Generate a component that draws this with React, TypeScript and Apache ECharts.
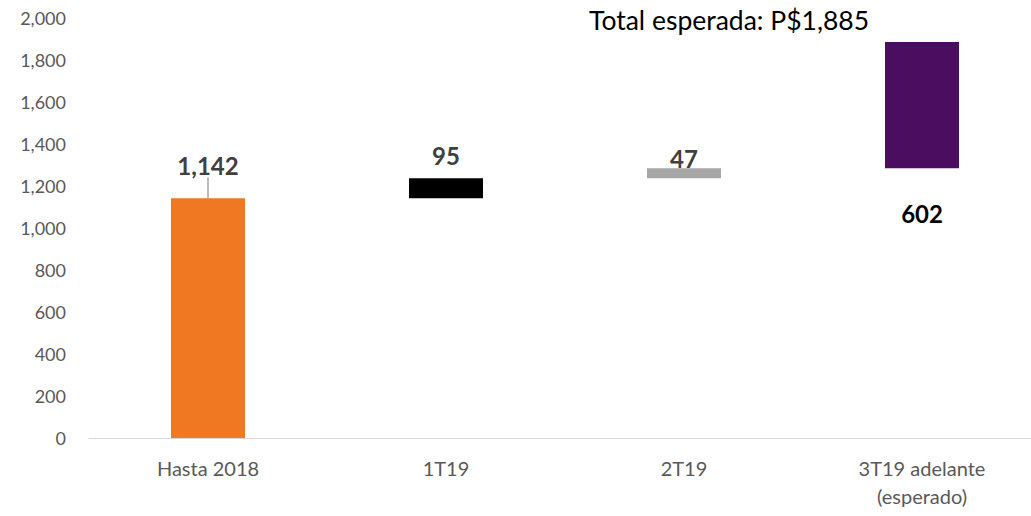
import React, { useEffect, useRef } from "react";
import * as echarts from "echarts";

const categories = ["Hasta 2018", "1T19", "2T19", "3T19 adelante\n(esperado)"];
const values = [1142, 95, 47, 602];
const colors = ["#F07822", "#000000", "#A6A6A6", "#4B0D5F"];
const yTicks = { min: 0, max: 2000, interval: 200 };
const titleText = "Total esperada: P$1,885";

export default function App() {
  const ref = useRef<HTMLDivElement>(null);
  useEffect(() => {
    document.body.style.margin = "0";
    const chart = echarts.init(ref.current!, null, { renderer: "svg" });
    const bases: number[] = [];
    let acc = 0;
    values.forEach((v, i) => {
      bases.push(i === 0 ? 0 : acc);
      acc += v;
    });
    const font = "Lato, 'Open Sans', sans-serif";
    const labelCfg = [
      { show: true, position: "top", distance: 4 },
      { show: true, position: "top", distance: 11 },
      { show: true, position: "top", distance: -2 },
      { show: true, position: "bottom", distance: 33, color: "#000" },
    ];
    chart.setOption({
      animation: false,
      title: {
        text: titleText,
        left: 584,
        top: 1,
        textStyle: { fontSize: 26.5, fontWeight: "normal", color: "#000", fontFamily: font },
      },
      grid: { left: 89, right: 0, top: 18, bottom: 78 },
      xAxis: {
        type: "category",
        data: categories,
        axisLine: { lineStyle: { color: "#D9D9D9", width: 1 } },
        axisTick: { show: false },
        axisLabel: { color: "#595959", fontSize: 20, fontFamily: font, margin: 16, lineHeight: 28 },
      },
      yAxis: {
        type: "value",
        min: yTicks.min,
        max: yTicks.max,
        interval: yTicks.interval,
        splitLine: { show: false },
        axisLine: { show: false },
        axisTick: { show: false },
        axisLabel: {
          color: "#595959",
          fontSize: 18,
          fontFamily: font,
          margin: 23,
          formatter: (v: number) => v.toLocaleString("en-US"),
        },
      },
      series: [
        {
          type: "bar",
          stack: "w",
          data: bases,
          itemStyle: { color: "transparent" },
          barWidth: 74,
          silent: true,
        },
        {
          type: "bar",
          stack: "w",
          barWidth: 74,
          data: values.map((v, i) => ({
            value: v,
            itemStyle: { color: colors[i] },
            label: labelCfg[i],
            labelLine: { show: i === 0 },
          })),
          label: {
            show: true,
            fontSize: 24,
            fontWeight: "bold",
            color: "#404040",
            fontFamily: font,
            formatter: (p: any) => p.value.toLocaleString("en-US"),
          },
          labelLayout: (p: any) => (p.dataIndex === 0 ? { dy: -17 } : {}),
          labelLine: { show: true, lineStyle: { color: "#A6A6A6", width: 1.5 } },
        },
      ],
    });
    return () => chart.dispose();
  }, []);
  return (
    <div style={{ width: 1031, height: 516, overflow: "hidden", position: "relative" }}>
      <div ref={ref} style={{ width: 1041, height: 516 }} />
    </div>
  );
}
